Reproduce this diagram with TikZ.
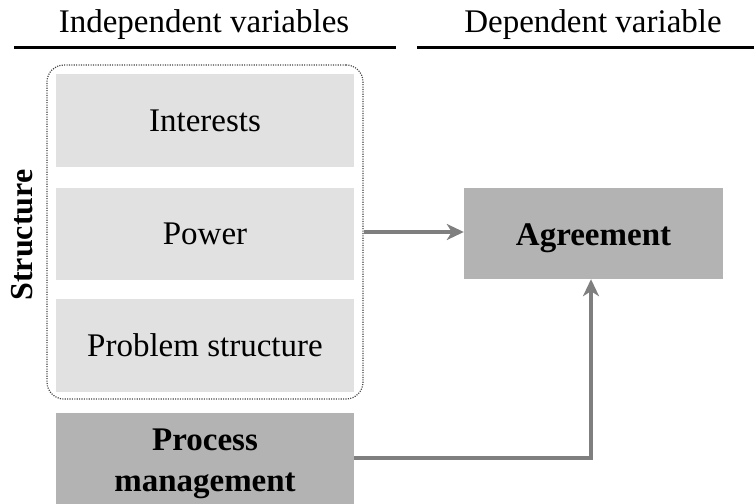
\documentclass[tikz,border=0pt]{standalone}
\usepackage{fontspec}
\setmainfont{Liberation Serif}
\usetikzlibrary{arrows.meta}
\definecolor{boxlight}{HTML}{E1E1E1}
\definecolor{boxdark}{HTML}{B3B3B3}
\definecolor{linkgray}{HTML}{7F7F7F}
\definecolor{groupline}{HTML}{444444}
\tikzset{
  header/.style={anchor=base, font=\fontsize{33}{40}\selectfont, inner sep=0pt},
  headrule/.style={line width=3pt, black},
  factor/.style={fill=boxlight, draw=none, minimum width=298pt, minimum height=93pt,
    font=\fontsize{33}{40}\selectfont, inner sep=0pt},
  outcome/.style={fill=boxdark, draw=none, font=\bfseries\fontsize{33}{41}\selectfont,
    inner sep=0pt, align=center},
  group/.style={draw=groupline, line width=1.2pt, dash pattern=on 1.1pt off 1.3pt,
    rounded corners=17pt, minimum width=316pt, minimum height=334pt},
  conn/.style={draw=linkgray, line width=3.2pt,
    -{Stealth[length=17pt, width=16pt, inset=5pt]}},
}
\begin{document}
\begin{tikzpicture}[x=1pt, y=1pt]
  \useasboundingbox (0,0) rectangle (754,-503);

  % column headings
  \node[header] (hind) at (204,-33) {Independent variables};
  \node[header] (hdep) at (593,-33) {Dependent variable};
  \draw[headrule] (14,-48) -- (396,-48);
  \draw[headrule] (417,-48) -- (754,-48);

  % structural factors
  \node[factor] (interests) at (205,-120.5) {Interests};
  \node[factor, minimum height=92pt] (power) at (205,-234) {Power};
  \node[factor] (problem) at (205,-345.5) {Problem structure};
  \node[group] (structure) at (205,-232) {};
  \node[rotate=90, font=\bfseries\fontsize{32}{38}\selectfont, inner sep=0pt]
    (structlabel) at (22,-235) {Structure};

  % process and outcome
  \node[outcome, minimum width=298pt, minimum height=102pt] (process) at (205,-464)
    {Process\\management};
  \node[outcome, minimum width=259pt, minimum height=91pt, text height=30pt,
    text depth=7pt] (agreement) at (593.5,-233.5) {Agreement};

  % causal links
  \draw[conn] (structure.east) -- (structure.east -| agreement.west);
  \coordinate (pout) at ([yshift=6pt]process.east);
  \draw[conn] (pout) -| ([xshift=-2.5pt]agreement.south);
\end{tikzpicture}
\end{document}
